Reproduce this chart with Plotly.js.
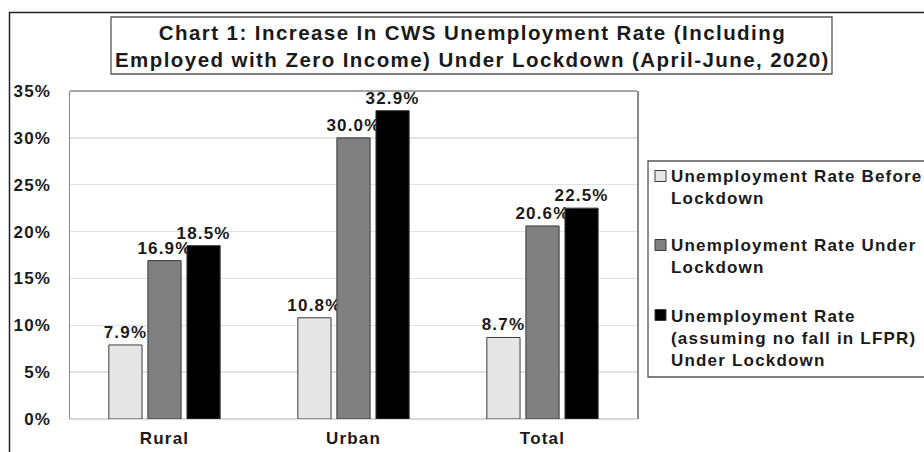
<!DOCTYPE html>
<html>
<head>
<meta charset="utf-8">
<script src="https://cdn.plot.ly/plotly-3.0.1.min.js"></script>
<style>
html,body{margin:0;padding:0;background:#fff;}
#chart{width:924px;height:452px;}
svg text{letter-spacing:0.07em;}
</style>
</head>
<body>
<div id="chart"></div>
<script>
// ---- data ----
const categories = ["Rural", "Urban", "Total"];
const seriesNames = [
  "Unemployment Rate Before<br>Lockdown",
  "Unemployment Rate Under<br>Lockdown",
  "Unemployment Rate<br>(assuming no fall in LFPR)<br>Under Lockdown"
];
const beforeLockdown = [7.9, 10.8, 8.7];
const underLockdown = [16.9, 30.0, 20.6];
const noFallLFPR = [18.5, 32.9, 22.5];
const titleText = "Chart 1: Increase In CWS Unemployment Rate (Including<br>Employed with Zero Income) Under Lockdown (April-June, 2020)";

// ---- layout geometry (pixels) ----
const W = 924, H = 452;
const L = 70, R = 637, T = 91, B = 419;
const px = v => (v - L) / (R - L);
const py = v => (B - v) / (B - T);

const FONT = "Liberation Sans, Arial, sans-serif";
const seriesValues = [beforeLockdown, underLockdown, noFallLFPR];
const seriesColors = ["#e6e6e6", "#808080", "#000000"];

const traces = seriesValues.map((vals, i) => ({
  type: "bar",
  x: categories,
  y: vals,
  name: seriesNames[i],
  marker: {color: seriesColors[i], line: {color: "#3a3a3a", width: 1}},
  texttemplate: "%{y:.1f}%",
  textposition: "outside",
  constraintext: "none",
  cliponaxis: false,
  textfont: {family: FONT, size: 17, weight: "bold", color: "#1a1a1a"},
  hoverinfo: "skip",
  showlegend: false
}));

const shapes = [
  // outer frame
  {type: "rect", xref: "paper", yref: "paper", x0: px(9.5), x1: px(940), y0: py(470), y1: py(12.5),
   line: {color: "#222", width: 1.5}, fillcolor: "rgba(0,0,0,0)", layer: "below"},
  // top border of plot area
  {type: "line", xref: "paper", yref: "paper", x0: 0, x1: 1, y0: 1, y1: 1, line: {color: "#8a8a8a", width: 1.5}},
  // title box
  {type: "rect", xref: "paper", yref: "paper", x0: px(111), x1: px(832), y0: py(74), y1: py(17),
   line: {color: "#555", width: 1.3}, fillcolor: "#fff", layer: "below"},
  // legend box
  {type: "rect", xref: "paper", yref: "paper", x0: px(648), x1: px(940), y0: py(377), y1: py(161),
   line: {color: "#555", width: 1.3}, fillcolor: "#fff", layer: "below"}
];

const annotations = [
  {xref: "paper", yref: "paper", x: px(472), y: py(46), xanchor: "center", yanchor: "middle",
   text: titleText, showarrow: false, align: "center",
   font: {family: FONT, size: 20.5, weight: "bold", color: "#1a1a1a"}}
];

// custom legend
const legendCenters = [187, 256.5, 338.5];
const legendFirstLine = [176, 245, 315];
seriesNames.forEach((nm, i) => {
  annotations.push({
    xref: "paper", yref: "paper", x: px(669), y: py(legendCenters[i]), xanchor: "left", yanchor: "middle",
    text: nm, showarrow: false, align: "left",
    font: {family: FONT, size: 17, weight: "bold", color: "#1a1a1a"}
  });
  shapes.push({
    type: "rect", xref: "paper", yref: "paper",
    x0: px(655), x1: px(666), y0: py(legendFirstLine[i] + 5.5), y1: py(legendFirstLine[i] - 5.5),
    line: {color: "#3a3a3a", width: 1}, fillcolor: seriesColors[i]
  });
});

const layout = {
  width: W, height: H,
  margin: {l: L, r: W - R, t: T, b: H - B, pad: 0},
  paper_bgcolor: "#fff", plot_bgcolor: "#fff",
  barmode: "group",
  bargap: 0.38,
  bargroupgap: 0.15,
  showlegend: false,
  font: {family: FONT, color: "#1a1a1a"},
  xaxis: {
    type: "category",
    showgrid: false, zeroline: false, showline: false, ticks: "",
    tickfont: {family: FONT, size: 17, weight: "bold", color: "#1a1a1a"},
    ticklabelstandoff: 7,
    fixedrange: true
  },
  yaxis: {
    range: [0, 35], dtick: 5, tick0: 0, ticksuffix: "%",
    showgrid: true, gridcolor: "#e2e2e2", gridwidth: 1.5,
    zeroline: true, zerolinecolor: "#d8d8d8", zerolinewidth: 1.5,
    showline: true, mirror: true, linecolor: "#8a8a8a", linewidth: 1.5,
    ticks: "",
    tickfont: {family: FONT, size: 17, weight: "bold", color: "#1a1a1a"},
    ticklabelstandoff: 14,
    fixedrange: true
  },
  shapes: shapes,
  annotations: annotations
};

Plotly.newPlot("chart", traces, layout, {displayModeBar: false, staticPlot: true});
</script>
</body>
</html>
